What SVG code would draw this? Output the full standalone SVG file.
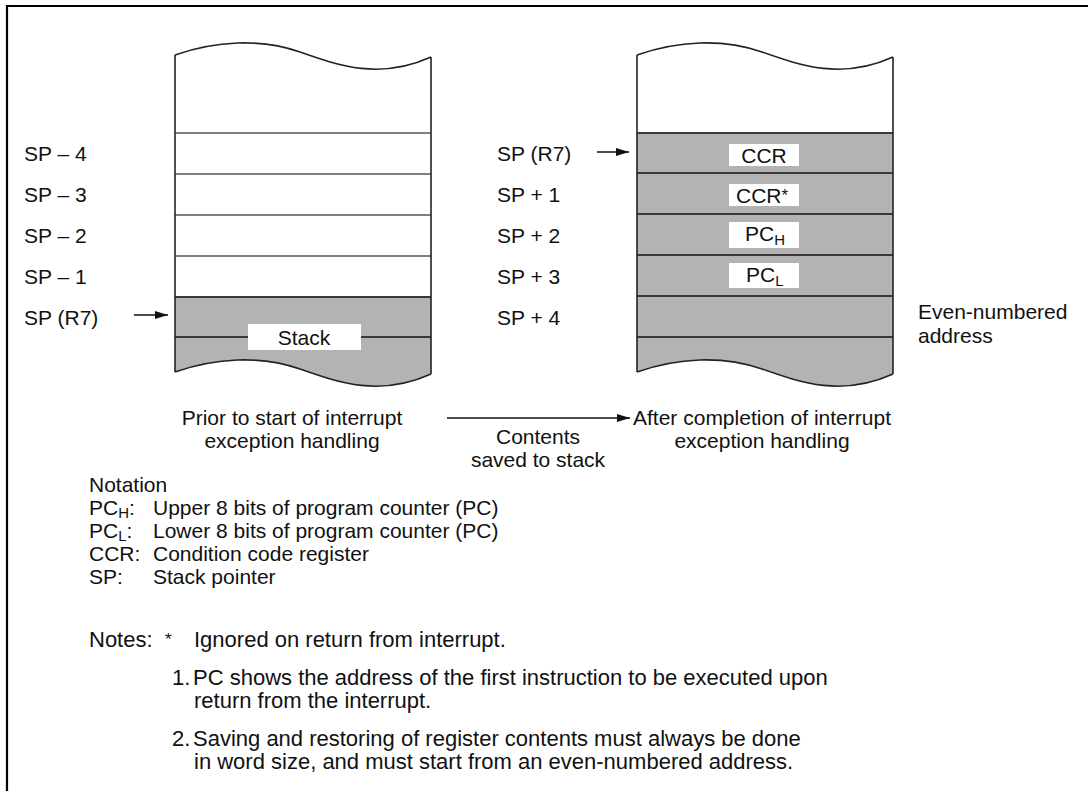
<svg xmlns="http://www.w3.org/2000/svg" width="1088" height="791" viewBox="0 0 1088 791">
<defs>
<style>
text{font-family:"Liberation Sans",Arial,sans-serif;font-size:21px;fill:#111}
.mid{text-anchor:middle}
.sub{font-size:15px}
.ast{font-size:17px}
.note{font-size:22px}
.wave{fill:none;stroke:#222;stroke-width:1.6}
.side{stroke:#222;stroke-width:1.6}
.row{stroke:#555;stroke-width:1.5}
.rowd{stroke:#3a3a3a;stroke-width:1.8}
.gray{fill:#b3b3b3}
.lbl{fill:#fff}
.conn{stroke:#111;stroke-width:1.5;fill:none}
</style>
<marker id="ah" viewBox="0 0 13 8" refX="13" refY="4" markerWidth="13" markerHeight="8" markerUnits="userSpaceOnUse" orient="auto">
<path d="M0,0 L13,4 L0,8 Z" fill="#111"/>
</marker>
</defs>
<rect width="1088" height="791" fill="#fff"/>
<path d="M7,791 L7,6 L1088,6" fill="none" stroke="#000" stroke-width="2.2"/>

<g id="stack-before">
<path class="gray" d="M175,297 L431,297 L431,374 C380,397 340,383 300,369 C260,355 215,358 175,372 Z"/>
<line class="row" x1="175" y1="133" x2="431" y2="133"/>
<line class="row" x1="175" y1="174" x2="431" y2="174"/>
<line class="row" x1="175" y1="215" x2="431" y2="215"/>
<line class="row" x1="175" y1="256" x2="431" y2="256"/>
<line class="rowd" x1="175" y1="297" x2="431" y2="297"/>
<line class="rowd" x1="175" y1="337" x2="431" y2="337"/>
<path class="wave" d="M175,55 C215,41 260,38 300,52 C340,66 380,80 431,57"/>
<path class="wave" d="M175,372 C215,358 260,355 300,369 C340,383 380,397 431,374"/>
<line class="side" x1="175" y1="55" x2="175" y2="372"/>
<line class="side" x1="431" y1="57" x2="431" y2="374"/>
<rect class="lbl" x="248" y="324" width="113" height="26"/>
<text class="mid" x="304" y="345">Stack</text>
</g>

<g id="labels-before">
<text x="24" y="161">SP – 4</text>
<text x="24" y="202">SP – 3</text>
<text x="24" y="243">SP – 2</text>
<text x="24" y="284">SP – 1</text>
<text x="24" y="325">SP (R7)</text>
</g>

<g id="stack-after">
<path class="gray" d="M637,133 L893,133 L893,374 C842,397 802,383 762,369 C722,355 677,358 637,372 Z"/>
<line class="rowd" x1="637" y1="133" x2="893" y2="133" style="stroke-width:2.2"/>
<line class="rowd" x1="637" y1="173" x2="893" y2="173"/>
<line class="rowd" x1="637" y1="214" x2="893" y2="214"/>
<line class="rowd" x1="637" y1="255" x2="893" y2="255"/>
<line class="rowd" x1="637" y1="296" x2="893" y2="296"/>
<line class="rowd" x1="637" y1="337" x2="893" y2="337"/>
<path class="wave" d="M637,55 C677,41 722,38 762,52 C802,66 842,80 893,57"/>
<path class="wave" d="M637,372 C677,358 722,355 762,369 C802,383 842,397 893,374"/>
<line class="side" x1="637" y1="55" x2="637" y2="372"/>
<line class="side" x1="893" y1="57" x2="893" y2="374"/>
<rect class="lbl" x="729" y="144" width="70" height="22"/>
<text class="mid" x="764" y="163">CCR</text>
<rect class="lbl" x="729" y="184" width="70" height="22"/>
<text x="736" y="203">CCR<tspan class="ast" dy="-2">*</tspan></text>
<rect class="lbl" x="729" y="222" width="70" height="26"/>
<text x="745" y="241">PC<tspan class="sub" dy="4">H</tspan></text>
<rect class="lbl" x="729" y="263" width="70" height="25"/>
<text x="746" y="282">PC<tspan class="sub" dy="4">L</tspan></text>
</g>

<g id="labels-after">
<text x="497" y="161">SP (R7)</text>
<text x="497" y="202">SP + 1</text>
<text x="497" y="243">SP + 2</text>
<text x="497" y="284">SP + 3</text>
<text x="497" y="325">SP + 4</text>
<text x="918" y="319">Even-numbered</text>
<text x="918" y="343">address</text>
</g>

<g id="connectors">
<line class="conn" x1="134" y1="315" x2="168" y2="315" marker-end="url(#ah)"/>
<line class="conn" x1="597" y1="152" x2="629" y2="152" marker-end="url(#ah)"/>
<line class="conn" x1="447" y1="418" x2="630" y2="418" marker-end="url(#ah)"/>
</g>

<g id="captions">
<text class="mid" x="292" y="425">Prior to start of interrupt</text>
<text class="mid" x="292" y="448">exception handling</text>
<text class="mid" x="538" y="444">Contents</text>
<text class="mid" x="538" y="467">saved to stack</text>
<text class="mid" x="762" y="425">After completion of interrupt</text>
<text class="mid" x="762" y="448">exception handling</text>
</g>

<g id="notation">
<text x="89" y="492">Notation</text>
<text x="89" y="515">PC<tspan class="sub" dy="3">H</tspan><tspan dy="-3">:</tspan></text>
<text x="153" y="515">Upper 8 bits of program counter (PC)</text>
<text x="89" y="538">PC<tspan class="sub" dy="3">L</tspan><tspan dy="-3">:</tspan></text>
<text x="153" y="538">Lower 8 bits of program counter (PC)</text>
<text x="89" y="561">CCR:</text>
<text x="153" y="561">Condition code register</text>
<text x="89" y="584">SP:</text>
<text x="153" y="584">Stack pointer</text>
</g>

<g id="notes">
<text class="note" x="89" y="647">Notes:</text>
<text class="ast" x="165" y="645">*</text>
<text class="note" x="194" y="647">Ignored on return from interrupt.</text>
<text class="note" x="172" y="685">1.</text>
<text class="note" x="193" y="685">PC shows the address of the first instruction to be executed upon</text>
<text class="note" x="194" y="708">return from the interrupt.</text>
<text class="note" x="172" y="746">2.</text>
<text class="note" x="193" y="746">Saving and restoring of register contents must always be done</text>
<text class="note" x="194" y="769">in word size, and must start from an even-numbered address.</text>
</g>
</svg>
